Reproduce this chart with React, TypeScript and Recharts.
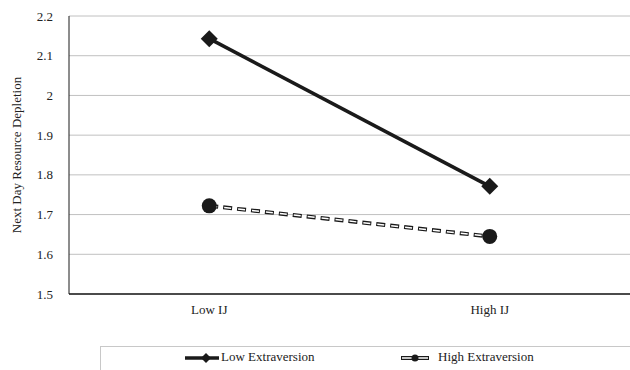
import { LineChart, Line, XAxis, YAxis, CartesianGrid } from 'recharts'

const categories = ['Low IJ', 'High IJ']
const lowExtraversion = [2.143, 1.771]
const highExtraversion = [1.722, 1.645]
const yTicks = [1.5, 1.6, 1.7, 1.8, 1.9, 2, 2.1, 2.2]

const data = categories.map((name, i) => ({
  name,
  low: lowExtraversion[i],
  high: highExtraversion[i],
}))

const FONT = 'Liberation Serif'

// diamond marker for the low extraversion series
const Diamond = ({ cx, cy }: any) => {
  if (cx == null || cy == null) return null
  const r = 8.5
  return <polygon points={`${cx},${cy - r} ${cx + r},${cy} ${cx},${cy + r} ${cx - r},${cy}`} fill="#1a1a1a" />
}

const Dot = ({ cx, cy }: any) => {
  if (cx == null || cy == null) return null
  return <circle cx={cx} cy={cy} r={7.5} fill="#1a1a1a" />
}

const YLabel = ({ viewBox }: any) => {
  const cy = viewBox.y + viewBox.height / 2
  return (
    <text x={21} y={cy} transform={`rotate(-90 21 ${cy})`} textAnchor="middle" style={{ fontFamily: FONT }} fontSize={13} fill="#222">
      Next Day Resource Depletion
    </text>
  )
}

const LegendBox = () => (
  <div
    style={{
      position: 'absolute',
      left: 100,
      top: 346,
      width: 540,
      height: 30,
      borderTop: '1px solid #c8c8c8',
      borderLeft: '1px solid #c8c8c8',
      fontFamily: FONT,
      fontSize: 13,
      color: '#222',
    }}
  >
    <svg width={40} height={14} style={{ position: 'absolute', left: 83, top: 4 }}>
      <line x1={1} y1={7} x2={35} y2={7} stroke="#1a1a1a" strokeWidth={3.5} />
      <polygon points="22,2 27,7 22,12 17,7" fill="#1a1a1a" />
    </svg>
    <span style={{ position: 'absolute', left: 120, top: 2 }}>Low Extraversion</span>
    <svg width={32} height={14} style={{ position: 'absolute', left: 299, top: 4 }}>
      <line x1={1} y1={7} x2={29} y2={7} stroke="#1a1a1a" strokeWidth={4} />
      <line x1={2} y1={7} x2={28} y2={7} stroke="#fff" strokeWidth={1.5} />
      <circle cx={15} cy={7} r={3.5} fill="#1a1a1a" />
    </svg>
    <span style={{ position: 'absolute', left: 337, top: 2 }}>High Extraversion</span>
  </div>
)

const tickStyle = { fontFamily: FONT, fontSize: 13, fill: '#222' }

export default function App() {
  return (
    <div style={{ position: 'absolute', left: 0, top: 0, width: 630, height: 370, background: '#fff', overflow: 'hidden', fontFamily: FONT }}>
      <LineChart width={630} height={370} data={data} margin={{ top: 16, right: 0, left: 0, bottom: 46 }} style={{ fontFamily: FONT }}>
        <CartesianGrid vertical={false} stroke="#c0c0c0" strokeWidth={1} />
        <XAxis
          dataKey="name"
          scale="band"
          height={30}
          stroke="#1a1a1a"
          strokeWidth={1.5}
          tickLine={false}
          tick={tickStyle}
          tickMargin={5}
        />
        <YAxis
          type="number"
          domain={[1.5, 2.2]}
          ticks={yTicks}
          width={69}
          stroke="#1a1a1a"
          tickLine={false}
          tick={tickStyle}
          tickMargin={10}
          label={<YLabel />}
        />
        <Line dataKey="low" stroke="#1a1a1a" strokeWidth={3.5} dot={<Diamond />} isAnimationActive={false} />
        <Line dataKey="high" stroke="#1a1a1a" strokeWidth={4} strokeDasharray="9 5" dot={false} isAnimationActive={false} />
        <Line
          dataKey="high"
          stroke="#ffffff"
          strokeWidth={1.5}
          strokeDasharray="7 7"
          strokeDashoffset={-1}
          dot={<Dot />}
          isAnimationActive={false}
        />
      </LineChart>
      <LegendBox />
    </div>
  )
}
